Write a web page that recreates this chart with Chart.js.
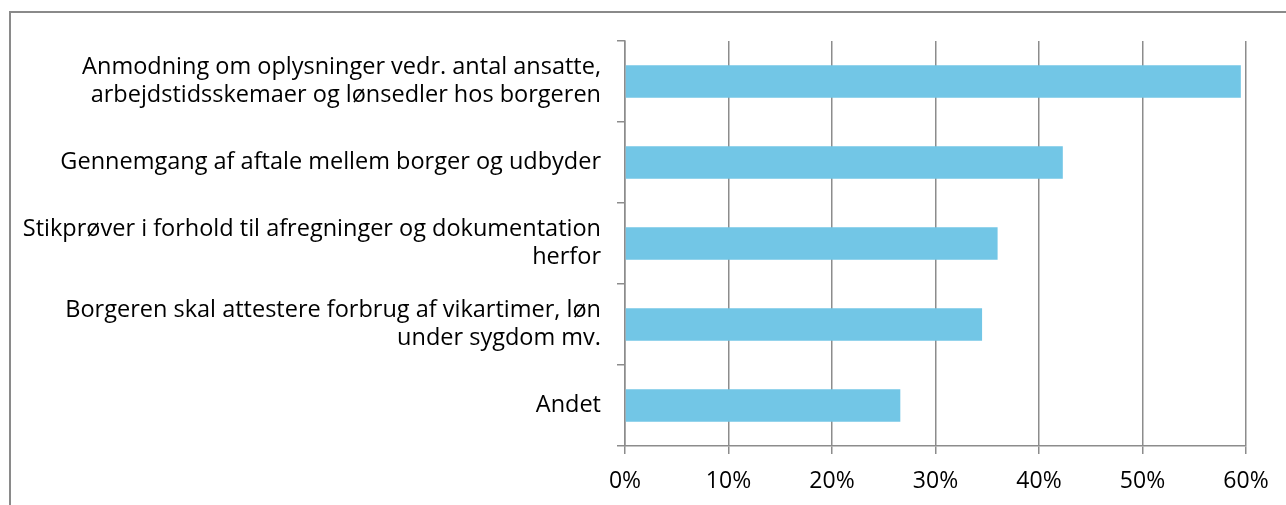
<!DOCTYPE html>
<html>
<head>
<meta charset="utf-8">
<script src="https://cdn.jsdelivr.net/npm/chart.js@4/dist/chart.umd.min.js"></script>
<style>
  html, body { margin: 0; padding: 0; background: #fff; overflow: hidden; }
  #wrap { position: relative; width: 1286px; height: 505px; }
  #frame { position: absolute; left: 9px; top: 11px; width: 1300px; height: 520px; border: 2px solid #8a8a8a; box-sizing: border-box; }
  canvas { position: absolute; left: 0; top: 0; }
</style>
</head>
<body>
<div id="wrap">
  <div id="frame"></div>
  <canvas id="chart" width="1286" height="505"></canvas>
</div>
<script>
// ===== Data =====
const categories = [
  ['Anmodning om oplysninger vedr. antal ansatte,', 'arbejdstidsskemaer og lønsedler hos borgeren'],
  'Gennemgang af aftale mellem borger og udbyder',
  ['Stikprøver i forhold til afregninger og dokumentation', 'herfor'],
  ['Borgeren skal attestere forbrug af vikartimer, løn', 'under sygdom mv.'],
  'Andet'
];
const values = [59.5, 42.3, 36.0, 34.5, 26.6];
const xTicks = [0, 10, 20, 30, 40, 50, 60];

const gridGray = '#8c8c8c';
const yFont = { family: '"Open Sans", sans-serif', size: 23.5, lineHeight: 1.18 };
const xFont = { family: '"Open Sans", sans-serif', size: 23, lineHeight: 1.2 };

new Chart(document.getElementById('chart').getContext('2d'), {
  type: 'bar',
  data: {
    labels: categories,
    datasets: [{ data: values, backgroundColor: '#72c6e6', categoryPercentage: 1, barPercentage: 0.4 }]
  },
  options: {
    indexAxis: 'y',
    responsive: false,
    animation: false,
    layout: { padding: { left: 0, top: 41, right: 40, bottom: 0 } },
    plugins: { legend: { display: false }, tooltip: { enabled: false } },
    scales: {
      x: {
        min: 0, max: 60,
        afterBuildTicks: s => { s.ticks = xTicks.map(v => ({ value: v })); },
        afterFit: s => { s.height = 59; },
        ticks: { callback: v => v + '%', color: '#000', font: xFont, padding: 14, maxRotation: 0 },
        grid: { color: gridGray, lineWidth: 1.5, tickLength: 8 },
        border: { color: gridGray, width: 1.5 }
      },
      y: {
        afterFit: s => { s.width = 625; },
        ticks: { color: '#000', font: yFont, padding: 16 },
        grid: { drawOnChartArea: false, color: gridGray, lineWidth: 1.5, tickLength: 8 },
        border: { color: gridGray, width: 1.5 }
      }
    }
  }
});
</script>
</body>
</html>
